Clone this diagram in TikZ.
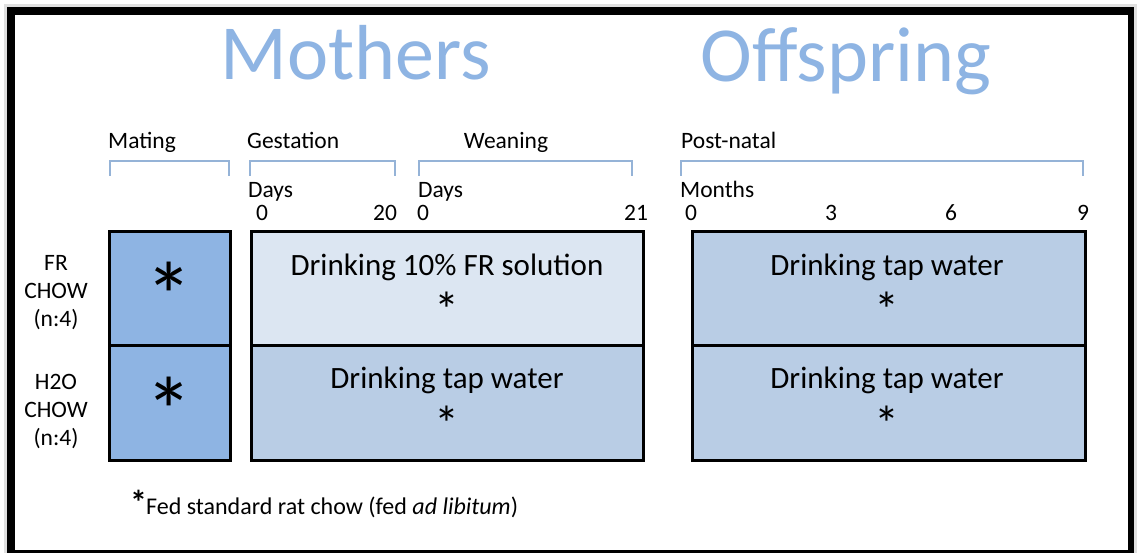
\documentclass[tikz,border=0pt]{standalone}
\usepackage{fontspec}
\setmainfont{Carlito}
\usetikzlibrary{positioning}

\definecolor{titleblue}{HTML}{8EB4E3}
\definecolor{matefill}{HTML}{8EB4E3}
\definecolor{palefill}{HTML}{DCE6F2}
\definecolor{tapfill}{HTML}{B9CDE5}
\definecolor{bracketblue}{HTML}{95B3D7}

\begin{document}
\begin{tikzpicture}[x=1pt,y=-1pt,
    cell/.style={draw=black, line width=3pt, inner sep=0pt},
    phase/.style={font=\fontsize{23.5}{26}\selectfont, anchor=base west, inner sep=0pt},
    tick/.style={font=\fontsize{23.5}{26}\selectfont, anchor=base, inner sep=0pt},
    group/.style={font=\fontsize{23.5}{28}\selectfont, align=center, inner sep=0pt},
    drink/.style={font=\fontsize{31}{34}\selectfont, inner sep=0pt},
    bigstar/.style={font=\fontsize{95}{95}\selectfont, anchor=base, inner sep=0pt},
    smallstar/.style={font=\fontsize{50}{50}\selectfont, anchor=base, inner sep=0pt},
    bracket/.style={draw=bracketblue, line width=2pt},
]

    % frame
    \fill[white] (0,0) rectangle (1138,553);
    \useasboundingbox (0,0) rectangle (1138,553);
    \fill[black!12] (4,4) rectangle (1137,553);
    \fill[black] (7,7) rectangle (1134,553);
    \fill[white] (15,15) rectangle (1128,550);

    % titles
    \node[font=\fontsize{78}{80}\selectfont, text=titleblue, anchor=base, inner sep=0pt] (mothers) at (356,80) {Mothers};
    \node[font=\fontsize{78}{80}\selectfont, text=titleblue, anchor=base, inner sep=0pt] (offspring) at (846,82) {Offspring};

    % phases and brackets
    \node[phase] (mating)    at (108,149) {Mating};
    \node[phase] (gestation) at (247,149) {Gestation};
    \node[tick]  (weaning)   at (506,149) {Weaning};
    \node[phase] (postnatal) at (681,149) {Post-natal};

    \foreach \a/\b in {110/229,250/395,419/632,681/1083}
        \draw[bracket] (\a,176) -- (\a,161) -- (\b,161) -- (\b,176);

    \node[phase] (daysG)  at (248,198) {Days};
    \node[phase] (daysW)  at (418,198) {Days};
    \node[phase] (months) at (680,198) {Months};

    \foreach \x/\t [count=\i] in {262/0,385/20,423/0,636/21,691/0,831/3,951/6,1083/9}
        \node[tick] (tick\i) at (\x,221) {\t};

    % groups
    \node[group] (frgroup)  at (56,293) {FR\\CHOW\\(n:4)};
    \node[group] (h2ogroup) at (56,412) {H2O\\CHOW\\(n:4)};

    % cells
    \node[cell, fill=matefill, minimum width=121, minimum height=114] (mateFR)  at (169.5,289) {};
    \node[cell, fill=matefill, minimum width=121, minimum height=114] (mateH2O) at (169.5,403) {};
    \node[cell, fill=palefill, minimum width=392, minimum height=114] (gestFR)  at (447,289) {};
    \node[cell, fill=tapfill,  minimum width=392, minimum height=114] (gestH2O) at (447,403) {};
    \node[cell, fill=tapfill,  minimum width=393, minimum height=114] (postFR)  at (888.5,289) {};
    \node[cell, fill=tapfill,  minimum width=393, minimum height=114] (postH2O) at (888.5,403) {};

    \node[bigstar] (starFR)  at (169,330) {*};
    \node[bigstar] (starH2O) at (169,444) {*};

    \node[drink] (drinkFR)   at (447,267) {Drinking 10\% FR solution};
    \node[drink] (drinkH2O)  at (447,380) {Drinking tap water};
    \node[drink] (drinkPFR)  at (887,267) {Drinking tap water};
    \node[drink] (drinkPH2O) at (887,380) {Drinking tap water};
    \foreach \x/\y [count=\i] in {447/328,447/441,887/328,887/441}
        \node[smallstar] (fed\i) at (\x,\y) {*};

    % footnote
    \node[phase, font=\fontsize{24}{26}\selectfont] (note) at (130,514) {{\fontsize{34}{34}\selectfont\bfseries *}\kern-1pt Fed standard rat chow (fed \textit{ad libitum})};
\end{tikzpicture}
\end{document}
